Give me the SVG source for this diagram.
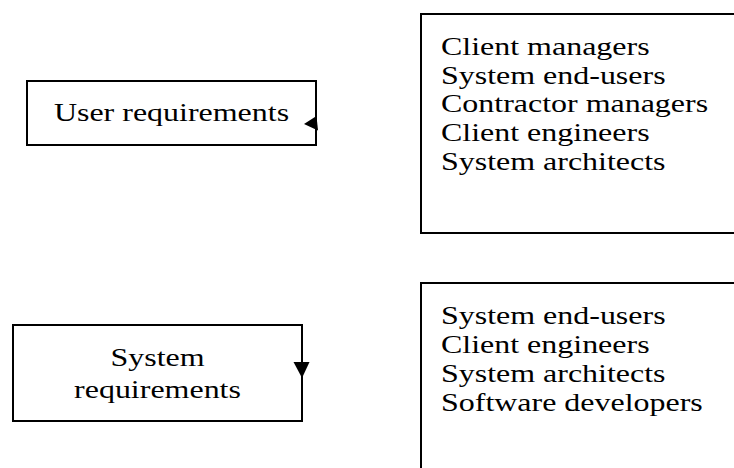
<svg xmlns="http://www.w3.org/2000/svg" width="734" height="468" viewBox="0 0 734 468">
<style>
.box{fill:#fff;stroke:#000;stroke-width:2}
.t{font-family:"Liberation Serif","Times New Roman",serif;font-size:26px;fill:#000}
.head{fill:#000;stroke:none}
</style>
<rect width="734" height="468" fill="#fff"/>
<g id="user-req">
<rect class="box" x="27" y="81" width="289" height="64"/>
<g transform="translate(171.5,0) scale(1.23,1)"><text class="t" x="0" y="121" text-anchor="middle">User requirements</text></g>
</g>
<g id="user-readers">
<rect class="box" x="421" y="14" width="330" height="219"/>
<g transform="translate(441,0) scale(1.23,1)">
<text class="t" x="0" y="55">Client managers</text>
<text class="t" x="0" y="84">System end-users</text>
<text class="t" x="0" y="112.5">Contractor managers</text>
<text class="t" x="0" y="141.5">Client engineers</text>
<text class="t" x="0" y="170.5">System architects</text>
</g>
</g>
<g id="system-req">
<rect class="box" x="13" y="325" width="289" height="96"/>
<g transform="translate(157.5,0) scale(1.23,1)">
<text class="t" x="0" y="366" text-anchor="middle">System</text>
<text class="t" x="0" y="398" text-anchor="middle">requirements</text>
</g>
</g>
<g id="system-readers">
<rect class="box" x="421" y="283" width="330" height="200"/>
<g transform="translate(441,0) scale(1.23,1)">
<text class="t" x="0" y="324">System end-users</text>
<text class="t" x="0" y="353">Client engineers</text>
<text class="t" x="0" y="382">System architects</text>
<text class="t" x="0" y="411">Software developers</text>
</g>
</g>
<g id="connectors">
<polygon class="head" points="304,124 316.5,116 318,130.5"/>
<polygon class="head" points="293.5,362 309.5,362 302,378"/>
</g>
</svg>
